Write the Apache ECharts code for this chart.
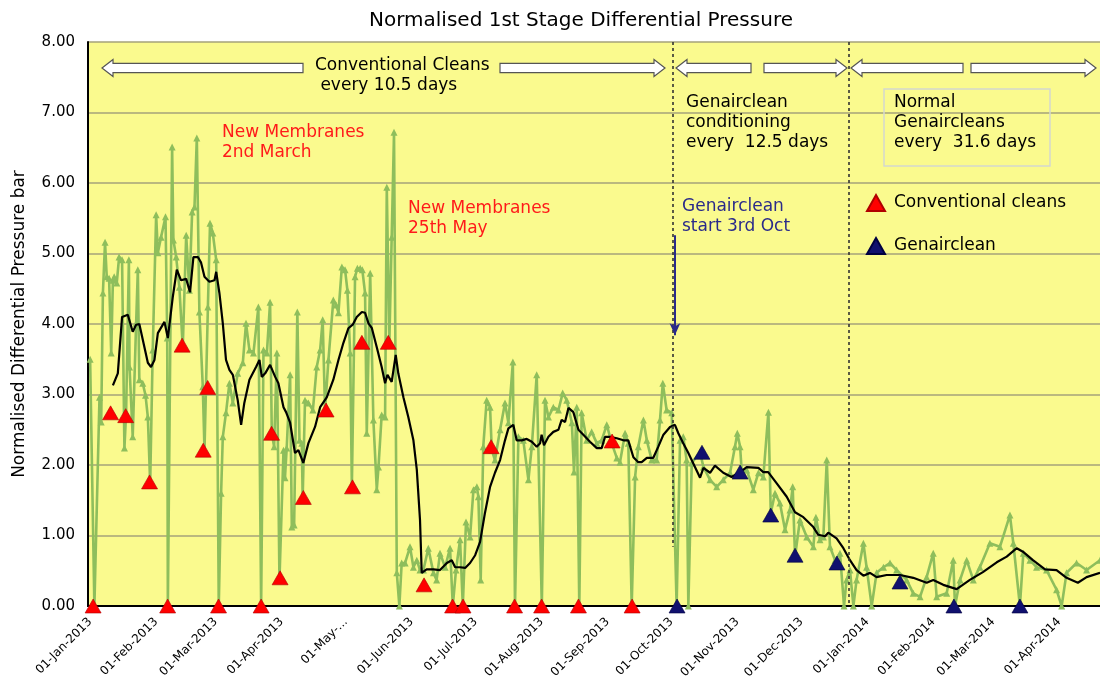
<!DOCTYPE html>
<html><head><meta charset="utf-8">
<script src="https://cdn.jsdelivr.net/npm/echarts@6/dist/echarts.min.js"></script>
<style>html,body{margin:0;padding:0;background:#fff}#c{width:1100px;height:688px}</style>
</head><body><div id="c"></div>
<script>
// ---- data (days counted from 01-Jan-2013) ----
const rawDay = [0,2,4.4,5.2,6.0,7.0,7.8,8.9,9.9,10.7,11.3,12.5,13.6,15.0,16.1,16.9,18.2,18.5,20.0,21.6,22.4,23.1,24.7,26.0,27.1,28.2,29.4,31.0,31.8,33.3,35.4,36.2,36.5,38.5,39.1,40.4,41.9,43.5,45.1,46.6,47.9,49.0,50.1,51.3,52.9,53.7,55.3,56.3,57.6,59.2,60.4,61.5,62.3,63.8,65.4,67.0,69.3,71.7,73.2,74.8,76.7,79.0,80.3,81.4,83.0,84.5,85.3,86.4,87.7,88.9,90.8,91.5,92.3,93.9,94.7,95.8,97.3,98.3,99.4,99.8,100.9,102.5,104.6,106.4,108.0,109.2,110.3,111.9,114.2,115.5,116.6,118.2,119.7,120.8,122.1,122.9,124.4,125.5,126.8,127.8,129.1,129.9,131.5,133.0,134.6,135.4,136.9,138.5,139.3,140.5,141.6,142.7,144.0,145.2,146.3,147.9,150.2,151.8,153.4,154.9,156.5,158.8,161.2,162.7,164.3,166.7,169.0,170.3,171.8,173.7,175.0,176.5,178.4,180.0,181.6,182.3,183.4,184.6,186.2,187.8,188.6,190.1,192.5,194.8,196.4,198.5,199.5,201.1,203.4,205.8,207.4,209.7,212.1,213.6,215.2,217.5,219.9,221.9,223.8,226.2,227.2,228.5,229.7,230.8,233.2,235.5,237.9,240.2,242.6,244.9,247.3,248.8,251.2,252.7,254.3,255.9,257.4,259.8,261.4,263.7,266.0,267.6,268.9,270.7,273.1,275.4,277.0,278.5,280.1,280.9,282.5,286.4,288.0,291.1,294.2,297.3,300.5,302.8,303.9,305.2,306.0,308.3,311.4,313.8,316.1,318.5,319.6,321.6,323.9,326.3,328.6,329.9,331.0,333.3,336.5,339.6,340.8,342.7,344.3,345.9,347.4,349.8,352.1,354.0,355.2,356.8,358.4,359.9,363.1,364.6,367.0,369.3,372.5,375.6,378.7,383.4,386.5,389.7,392.8,395.9,397.5,402.2,405.3,406.1,408.5,411.6,414.7,417.8,422.5,427.2,431.9,433.5,436.6,438.2,441.3,444.4,449.1,453.8,456.2,458.5,463.2,467.9,474.2];
const rawValue = [3.50,0,2.96,2.61,4.44,5.16,4.67,4.65,3.59,4.62,4.67,4.58,4.95,4.91,2.24,2.74,4.91,3.39,2.40,4.01,4.77,3.21,3.16,2.99,2.68,1.74,3.63,5.55,5.01,5.23,5.52,3.80,0,6.51,5.19,4.95,4.52,3.67,5.26,4.48,5.59,5.66,6.64,4.17,3.11,2.21,4.24,5.43,5.29,4.91,0,1.60,2.40,2.74,3.16,2.88,3.30,3.45,4.01,3.63,3.59,4.24,0,3.63,3.59,4.31,2.45,2.26,3.59,0.37,2.21,1.82,2.24,3.28,1.12,1.15,4.17,2.35,2.31,1.53,2.92,2.88,2.78,3.39,3.63,4.06,2.78,3.49,4.34,4.27,4.16,4.81,4.77,4.48,3.59,1.69,4.67,4.79,4.79,4.77,4.44,2.45,4.72,2.64,1.65,1.97,2.71,2.68,5.94,3.73,5.23,6.72,0.47,0,0.61,0.61,0.84,0.55,0.65,0.51,0.51,0.82,0.47,0.37,0.75,0.55,0.82,0,0.51,0.94,0,1.19,0.98,1.65,1.69,1.55,0.37,2.26,2.92,2.82,2.21,2.07,2.50,2.88,2.60,3.46,0,2.40,2.35,1.79,2.26,3.28,0,2.92,2.68,2.82,2.78,3.02,2.92,2.60,1.90,2.82,0,2.74,2.35,2.47,2.31,2.35,2.57,2.31,2.10,2.04,2.45,2.31,0,1.83,2.26,2.64,2.35,2.07,2.07,2.64,3.16,2.78,2.74,0,2.35,2.40,2.07,0,2.03,2.18,1.97,1.79,1.69,1.79,1.89,2.26,2.45,2.26,1.89,1.93,1.65,1.89,1.83,2.75,1.32,1.60,1.46,1.08,1.36,1.69,0.70,1.22,0.98,0.84,1.26,0.94,0.98,2.07,0.84,0.65,0.75,0,0.37,0.51,0,0.37,0.89,0.55,0,0.47,0.55,0.61,0.51,0.37,0.18,0.13,0.41,0.75,0.13,0.18,0.65,0,0.37,0.65,0.37,0.55,0.89,0.84,1.29,0.89,0,0.75,0.65,0.55,0.51,0.23,0,0.47,0.61,0.51,0.65];

const avgDay = [10.7,13.0,15.0,17.7,20.0,21.6,23.1,27.1,28.6,30.2,31.8,34.9,36.5,38.8,40.7,42.7,45.1,46.9,48.5,50.6,52.1,53.7,56.0,58.4,59.2,60.7,62.3,63.8,65.4,67.0,69.3,70.9,72.4,74.8,77.9,79.5,80.6,82.2,84.5,86.9,88.4,90.8,92.0,93.9,96.2,97.8,100.1,102.5,105.6,108.0,111.1,114.2,116.6,118.9,121.3,123.3,125.2,127.6,129.1,130.7,132.3,134.6,136.9,138.5,139.6,141.6,143.5,144.7,147.1,149.4,151.8,153.4,154.9,155.7,158.0,161.2,164.3,167.5,169.8,171.4,173.7,176.1,178.4,180.8,183.1,185.4,187.8,190.1,192.5,194.8,196.4,198.7,200.3,202.7,205.0,207.4,209.7,211.3,212.0,213.1,215.2,217.5,219.9,221.4,223.0,224.6,226.9,229.3,231.6,234.7,237.9,240.2,241.8,244.1,247.3,250.4,252.7,255.1,257.4,259.0,261.4,264.4,266.8,269.2,272.3,274.6,276.2,278.5,280.9,286.4,288.0,291.1,293.4,297.3,301.2,305.2,308.3,313.8,316.1,318.4,322.4,327.1,331.0,334.9,339.6,341.9,345.1,346.6,350.5,353.7,356.8,359.9,363.1,366.2,369.3,374.0,380.3,386.5,392.8,395.9,400.6,406.9,413.1,419.2,425.7,430.4,435.1,438.0,442.7,448.4,453.8,458.5,463.8,467.9,474.2];
const avgValue = [3.13,3.30,4.10,4.13,3.89,3.99,4.00,3.45,3.39,3.49,3.87,4.03,3.80,4.38,4.77,4.62,4.64,4.45,4.95,4.95,4.87,4.67,4.60,4.62,4.74,4.44,4.01,3.49,3.35,3.28,2.92,2.57,2.88,3.21,3.39,3.49,3.25,3.30,3.42,3.25,3.16,2.82,2.75,2.60,2.17,2.21,2.03,2.31,2.54,2.82,2.96,3.21,3.49,3.73,3.94,3.99,4.10,4.17,4.16,4.01,3.94,3.67,3.39,3.16,3.28,3.18,3.56,3.30,2.96,2.68,2.35,1.93,1.22,0.47,0.52,0.52,0.51,0.61,0.65,0.55,0.55,0.54,0.61,0.72,0.91,1.32,1.69,1.89,2.07,2.35,2.52,2.57,2.35,2.35,2.37,2.33,2.26,2.31,2.43,2.28,2.40,2.47,2.50,2.64,2.61,2.81,2.75,2.50,2.43,2.33,2.24,2.24,2.40,2.40,2.38,2.35,2.35,2.11,2.04,2.04,2.10,2.10,2.26,2.43,2.54,2.57,2.45,2.31,2.17,1.82,1.96,1.89,1.99,1.89,1.83,1.90,1.97,1.96,1.90,1.90,1.74,1.55,1.33,1.26,1.12,1.01,0.99,1.04,0.96,0.82,0.65,0.51,0.43,0.47,0.41,0.44,0.44,0.40,0.33,0.37,0.30,0.24,0.37,0.48,0.62,0.70,0.82,0.77,0.65,0.52,0.51,0.40,0.33,0.41,0.47];

const convDay = [1.4,9.6,16.7,27.9,36.4,43.2,53.1,55.2,60.3,80.3,85.2,89.2,100.1,110.8,123.2,127.6,140.0,156.8,170.2,175.1,188.3,199.3,212.0,229.3,245.1,254.5];
const convValue = [0,2.74,2.70,1.76,0,3.70,2.21,3.10,0,0,2.45,0.40,1.54,2.78,1.69,3.74,3.74,0.30,0,0,2.26,0,0,0,2.34,0];

const genDay = [275.6,287.3,305.2,319.6,331.0,350.7,380.3,405.6,436.6];
const genValue = [0,2.18,1.90,1.29,0.72,0.61,0.34,0,0];

const monthNames = ['Jan','Feb','Mar','Apr','May','Jun','Jul','Aug','Sep','Oct','Nov','Dec'];
const yTickValues = [0,1,2,3,4,5,6,7,8];

// ---- helpers ----
const T0 = new Date(2013,0,1).getTime();
const DAY = 86400000;
const toTime = d => T0 + d*DAY;
const pairs = (xs, ys) => xs.slice(0, Math.min(xs.length, ys.length)).map((d,i)=>[toTime(d), ys[i]]);

const FONT = 'DejaVu Sans';
const chart = echarts.init(document.getElementById('c'));

function blockArrow(x1, x2, y, dir){
  const h=11, H=8.5, s=4.7;
  const pts = dir==='left'
    ? [[x1,y],[x1+h,y-H],[x1+h,y-s],[x2,y-s],[x2,y+s],[x1+h,y+s],[x1+h,y+H]]
    : [[x2,y],[x2-h,y-H],[x2-h,y-s],[x1,y-s],[x1,y+s],[x2-h,y+s],[x2-h,y+H]];
  return {type:'polygon', z:100, shape:{points:pts}, style:{fill:'#ffffff', stroke:'#555555', lineWidth:1.2}};
}
function txt(x, y, text, color){
  return {type:'text', z:100, left:x, top:y, style:{text:text, fill:color||'#000', font:'17px "'+FONT+'"', lineHeight:20}};
}

const graphics = [
  blockArrow(102,303,68,'left'), blockArrow(500,665,68,'right'),
  blockArrow(676,751,68,'left'), blockArrow(764,847,68,'right'),
  blockArrow(851,963,68,'left'), blockArrow(971,1096,68,'right'),
  txt(315,56,'Conventional Cleans\n every 10.5 days'),
  txt(222,123,'New Membranes\n2nd March','#ff1a1a'),
  txt(408,199,'New Membranes\n25th May','#ff1a1a'),
  txt(686,93,'Genairclean\nconditioning\nevery  12.5 days'),
  {type:'rect', z:99, shape:{x:884,y:89,width:166,height:77}, style:{fill:'none', stroke:'#D4D8D0', lineWidth:1.5}},
  txt(894,93,'Normal\nGenaircleans\nevery  31.6 days'),
  txt(682,197,'Genairclean\nstart 3rd Oct','#2a2a8a')
];

const option = {
  animation:false,
  backgroundColor:'#ffffff',
  title:{text:'Normalised 1st Stage Differential Pressure', left:364, top:6,
    textStyle:{fontFamily:FONT, fontSize:20, fontWeight:'normal', color:'#000'}},
  grid:{left:88, right:0, top:42, bottom:82, show:true, backgroundColor:'#FAFA8E', borderWidth:0},
  legend:{orient:'vertical', left:861, top:189, itemWidth:18, itemHeight:16, itemGap:25, icon:'triangle',
    data:['Conventional cleans','Genairclean'],
    textStyle:{fontFamily:FONT, fontSize:17, color:'#000', padding:[0,0,0,4]}},
  xAxis:[{
    type:'time', min:toTime(-1), max:toTime(474.2), splitNumber:16,
    minInterval:28*DAY, maxInterval:31*DAY,
    axisLine:{show:true, onZero:false, lineStyle:{color:'#000', width:2}},
    axisTick:{show:false}, splitLine:{show:false},
    axisLabel:{rotate:45, fontFamily:FONT, fontSize:12, color:'#000', margin:14,
      showMinLabel:false, showMaxLabel:false,
      formatter:function(v){
        const d=new Date(v);
        if(d.getDate()!==1) return '';
        const y=d.getFullYear(), m=d.getMonth();
        if(y===2013 && m===4) return '01-May-...';
        return '01-'+monthNames[m]+'-'+y;
      }}
  },{
    type:'value', position:'top', min:0, max:1,
    axisLine:{show:true, lineStyle:{color:'#000', width:2}},
    axisTick:{show:false}, axisLabel:{show:false}, splitLine:{show:false}
  }],
  yAxis:{
    type:'value', min:yTickValues[0], max:yTickValues[yTickValues.length-1], interval:1,
    name:'Normalised Differential Pressure bar', nameLocation:'middle', nameGap:60,
    nameTextStyle:{fontFamily:FONT, fontSize:17, color:'#000'},
    axisLine:{show:true, lineStyle:{color:'#000', width:2}},
    axisTick:{show:false},
    axisLabel:{fontFamily:FONT, fontSize:15, color:'#000', margin:13, formatter:v=>v.toFixed(2)},
    splitLine:{show:true, lineStyle:{color:'#A5A27A', width:1.5}}
  },
  series:[
    {name:'Raw', type:'line', data:pairs(rawDay, rawValue), symbol:'triangle', symbolSize:7, showAllSymbol:true,
      lineStyle:{color:'#8EBE5C', width:2.6}, itemStyle:{color:'#8EBE5C'}, z:2},
    {name:'Average', type:'line', data:pairs(avgDay, avgValue), symbol:'none', showSymbol:false,
      lineStyle:{color:'#000', width:2.2}, z:3},
    {name:'Conventional cleans', type:'scatter', data:pairs(convDay, convValue), symbol:'triangle', symbolSize:[16,14],
      itemStyle:{color:'#FF0000', borderColor:'#B00000', borderWidth:0.6, opacity:1}, z:4},
    {name:'Genairclean', type:'scatter', data:pairs(genDay, genValue), symbol:'triangle', symbolSize:[16,14],
      itemStyle:{color:'#10106E', borderColor:'#000040', borderWidth:0.6, opacity:1}, z:4},
    {name:'Markers', type:'line', data:[], z:5, silent:true,
      markLine:{silent:true, symbol:['none','none'], label:{show:false},
        lineStyle:{color:'#333', type:[3,3], width:1.6},
        data:[
          [{coord:[toTime(273.5),8]},{coord:[toTime(273.5),0.84]}],
          [{coord:[toTime(356),8]},{coord:[toTime(356),0]}],
          [{coord:[toTime(274.6),5.26], symbol:'none'},
           {coord:[toTime(274.6),3.84], symbol:'arrow', symbolSize:[8,12],
             lineStyle:{color:'#2a2a8a', type:'solid', width:2}}]
        ]}}
  ],
  graphic:graphics
};
chart.setOption(option);
</script></body></html>
